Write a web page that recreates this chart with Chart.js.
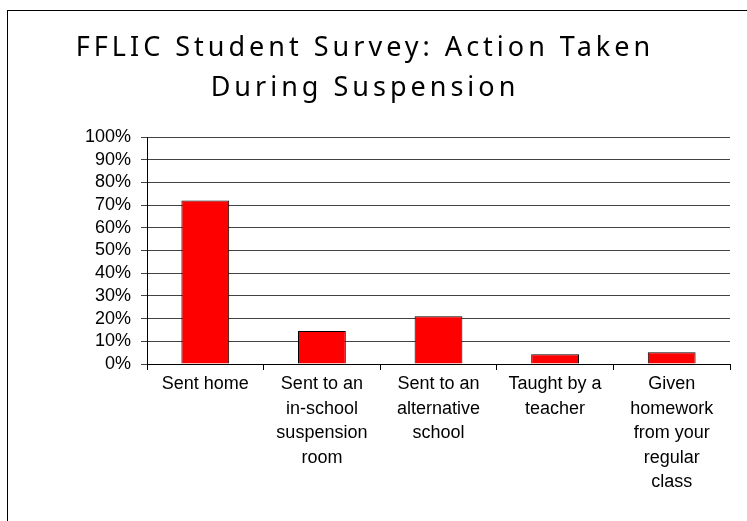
<!DOCTYPE html>
<html>
<head>
<meta charset="utf-8">
<script src="https://cdn.jsdelivr.net/npm/chart.js@4/dist/chart.umd.min.js"></script>
<style>
  html, body { margin: 0; padding: 0; background: #fff; overflow: hidden; }
  #frame { position: absolute; left: 7px; top: 10px; width: 800px; height: 600px; border: 1px solid #000; }
  #wrap { position: absolute; left: 0; top: 0; width: 747px; height: 521px; }
</style>
</head>
<body>
<div id="frame"></div>
<div id="wrap"><canvas id="c" width="747" height="521"></canvas></div>
<script>
const titleLines = ["FFLIC Student Survey: Action Taken", "During Suspension"];
const categories = [
  ["Sent home"],
  ["Sent to an", "in-school", "suspension", "room"],
  ["Sent to an", "alternative", "school"],
  ["Taught by a", "teacher"],
  ["Given", "homework", "from your", "regular", "class"]
];
const values = [72, 14.5, 21, 4.3, 5.2];
const yTicks = [0, 10, 20, 30, 40, 50, 60, 70, 80, 90, 100];

const titleSpacing = {
  id: 'titleSpacing',
  afterInit(chart) {
    const tb = chart.titleBlock;
    if (tb && !tb._wrapped) {
      const orig = tb.draw.bind(tb);
      tb.draw = function () {
        const ctx = chart.ctx;
        ctx.letterSpacing = '4px';
        orig();
        ctx.letterSpacing = '0px';
      };
      tb._wrapped = true;
    }
  }
};

new Chart(document.getElementById('c'), {
  type: 'bar',
  data: {
    labels: categories,
    datasets: [{
      data: values,
      backgroundColor: '#FF0000',
      borderColor: '#000000',
      borderWidth: 1,
      categoryPercentage: 1,
      barPercentage: 0.41
    }]
  },
  options: {
    responsive: false,
    animation: false,
    devicePixelRatio: 1,
    layout: { padding: { left: 0, right: 17, top: 0, bottom: 0 } },
    plugins: {
      legend: { display: false },
      tooltip: { enabled: false },
      title: {
        display: true,
        text: titleLines,
        color: '#000',
        font: { family: 'Noto Sans', size: 27, weight: 'normal', lineHeight: '40px' },
        padding: { top: 28, bottom: 29 }
      }
    },
    scales: {
      x: {
        grid: { display: true, drawOnChartArea: false, drawTicks: true, tickLength: 6, color: '#000', offset: true },
        border: { display: true, color: '#000', width: 1 },
        ticks: { color: '#000', font: { family: 'Liberation Sans', size: 18, lineHeight: '24.5px' }, padding: 2, maxRotation: 0, autoSkip: false },
        afterFit(s) { s.height = 157; }
      },
      y: {
        min: 0, max: 100,
        afterBuildTicks(s) { s.ticks = yTicks.map(v => ({ value: v })); },
        grid: { color: '#444', drawTicks: true, tickLength: 6, lineWidth: 1 },
        border: { display: true, color: '#000', width: 1 },
        ticks: { color: '#000', font: { family: 'Liberation Sans', size: 18 }, padding: 10, stepSize: 10, autoSkip: false, callback: v => v + '%' },
        afterFit(s) { s.width = 147; }
      }
    }
  },
  plugins: [titleSpacing]
});
</script>
</body>
</html>
